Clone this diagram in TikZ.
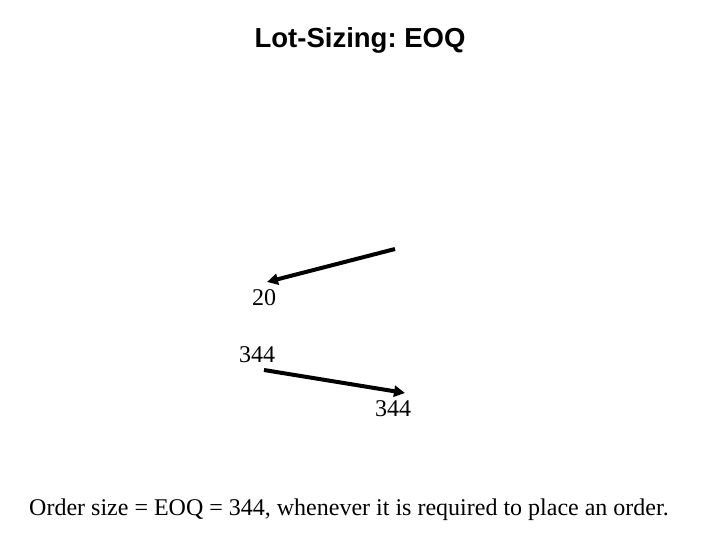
\documentclass[tikz,border=0pt]{standalone}
\usepackage{fontspec}
\setmainfont{Liberation Serif}
\setsansfont{Liberation Sans}
\usetikzlibrary{arrows.meta}
\frenchspacing
\begin{document}
\begin{tikzpicture}[x=1pt,y=-1pt,
  lbl/.style={inner sep=0pt,font=\fontsize{24}{28}\selectfont},
  arr/.style={line width=4pt,-{Triangle[length=11pt,width=11pt]}}]
\useasboundingbox (0,0) rectangle (720,540);
\node[inner sep=0pt,font=\sffamily\bfseries\fontsize{27.5}{32}\selectfont] (title) at (360,40) {Lot-Sizing: EOQ};
\coordinate (a1s) at (395,249);
\coordinate (a1e) at (267,282);
\node[lbl] (n20) at (264,298) {20};
\node[lbl] (n344a) at (257,355) {344};
\coordinate (a2s) at (264,370);
\coordinate (a2e) at (405,393);
\node[lbl] (n344b) at (393,409) {344};
\draw[arr] (a1s) -- (a1e);
\draw[arr] (a2s) -- (a2e);
\node[lbl] (bottom) at (349,510) {Order size = EOQ = 344, whenever it is required to place an order.};
\end{tikzpicture}
\end{document}
